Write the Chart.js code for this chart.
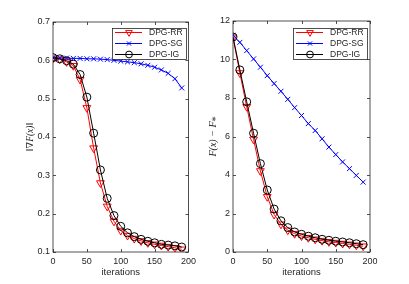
<!DOCTYPE html>
<html>
<head>
<meta charset="utf-8">
<script src="https://cdn.jsdelivr.net/npm/chart.js@4.4.0/dist/chart.umd.min.js"></script>
<style>
  html, body { margin: 0; padding: 0; background: #fff; }
  #wrap { position: relative; width: 409px; height: 284px; }
  canvas { position: absolute; top: 0; }
</style>
</head>
<body>
<div id="wrap">
  <canvas id="left" width="200" height="284" style="left:0"></canvas>
  <canvas id="right" width="209" height="284" style="left:200px"></canvas>
</div>
<script>
// iterations at which markers are drawn
const iterations = [0, 10, 20, 30, 40, 50, 60, 70, 80, 90, 100, 110, 120, 130, 140, 150, 160, 170, 180, 190];

// left panel: gradient norm
const gradRR = [0.605, 0.603, 0.596, 0.586, 0.550, 0.476, 0.371, 0.280, 0.219, 0.180, 0.156, 0.143, 0.135, 0.129, 0.124, 0.120, 0.117, 0.114, 0.111, 0.107];
const gradSG = [0.607, 0.606, 0.606, 0.605, 0.605, 0.604, 0.604, 0.603, 0.602, 0.600, 0.598, 0.596, 0.594, 0.591, 0.587, 0.582, 0.575, 0.566, 0.552, 0.528];
const gradIG = [0.607, 0.604, 0.599, 0.590, 0.563, 0.504, 0.410, 0.314, 0.240, 0.195, 0.167, 0.150, 0.140, 0.133, 0.128, 0.124, 0.120, 0.118, 0.116, 0.113];

// right panel: objective gap
const gapRR = [11.15, 9.30, 7.55, 5.85, 4.21, 2.87, 1.95, 1.44, 1.13, 0.95, 0.83, 0.74, 0.66, 0.59, 0.53, 0.49, 0.44, 0.40, 0.35, 0.30];
const gapSG = [11.26, 10.89, 10.46, 10.03, 9.60, 9.16, 8.75, 8.35, 7.93, 7.50, 7.09, 6.67, 6.31, 5.88, 5.45, 5.06, 4.68, 4.33, 3.98, 3.63];
const gapIG = [11.17, 9.46, 7.80, 6.17, 4.59, 3.22, 2.23, 1.62, 1.27, 1.04, 0.92, 0.82, 0.74, 0.66, 0.61, 0.56, 0.52, 0.48, 0.43, 0.38];

const methodNames = ["DPG-RR", "DPG-SG", "DPG-IG"];
const AXIS = "#262626";
const FONT = "'Liberation Sans', Arial, sans-serif";

const styles = [
  { color: "#ff0000", pointStyle: "triangle", rotation: 180, radius: 4.5 },
  { color: "#0000ff", pointStyle: "crossRot", rotation: 0, radius: 3.5 },
  { color: "#000000", pointStyle: "circle", rotation: 0, radius: 4 },
];

function makeDatasets(series) {
  return series.map((vals, i) => ({
    label: methodNames[i],
    data: vals.map((v, k) => ({ x: iterations[k], y: v })),
    borderColor: styles[i].color,
    backgroundColor: "rgba(0,0,0,0)",
    borderWidth: 1,
    pointStyle: styles[i].pointStyle,
    pointRotation: styles[i].rotation,
    pointRadius: styles[i].radius,
    pointBorderWidth: 1,
    pointBorderColor: styles[i].color,
    pointBackgroundColor: "rgba(0,0,0,0)",
    tension: 0,
    fill: false,
    order: 2 - i, // IG on top like matlab plot order
  }));
}

// matlab-like box with inward ticks on every side
const boxPlugin = {
  id: "box",
  beforeDatasetsDraw(chart) {
    const { ctx, chartArea: a, scales } = chart;
    ctx.save();
    ctx.strokeStyle = AXIS;
    ctx.lineWidth = 0.8;
    ctx.strokeRect(a.left, a.top, a.right - a.left, a.bottom - a.top);
    const tl = 3;
    ctx.beginPath();
    scales.x.ticks.forEach((t) => {
      const px = Math.round(scales.x.getPixelForValue(t.value)) + 0.5;
      ctx.moveTo(px, a.bottom); ctx.lineTo(px, a.bottom - tl);
      ctx.moveTo(px, a.top); ctx.lineTo(px, a.top + tl);
    });
    scales.y.ticks.forEach((t) => {
      const py = Math.round(scales.y.getPixelForValue(t.value)) + 0.5;
      ctx.moveTo(a.left, py); ctx.lineTo(a.left + tl, py);
      ctx.moveTo(a.right, py); ctx.lineTo(a.right - tl, py);
    });
    ctx.stroke();
    ctx.restore();
  },
  afterDraw(chart) {
    // legend box
    const opts = chart.options.plugins.box;
    const { ctx } = chart;
    const bx = opts.legendX, by = opts.legendY, bw = 74, bh = 31;
    ctx.save();
    ctx.fillStyle = "#fff";
    ctx.fillRect(bx, by, bw, bh);
    ctx.strokeStyle = AXIS;
    ctx.lineWidth = 0.8;
    ctx.strokeRect(bx + 0.5, by + 0.5, bw, bh);
    ctx.font = "8.5px " + FONT;
    ctx.textBaseline = "middle";
    chart.data.datasets.forEach((ds, i) => {
      const y = by + 4.5 + i * 11;
      ctx.strokeStyle = ds.borderColor;
      ctx.lineWidth = 1;
      ctx.beginPath();
      ctx.moveTo(bx + 3, y);
      ctx.lineTo(bx + 30, y);
      ctx.stroke();
      ctx.fillStyle = "rgba(0,0,0,0)";
      Chart.helpers.drawPoint(ctx, {
        pointStyle: ds.pointStyle,
        rotation: ds.pointRotation,
        radius: ds.pointRadius * 0.85,
        borderWidth: 1,
      }, bx + 17, y);
      ctx.fillStyle = AXIS;
      ctx.fillText(ds.label, bx + 37, y + 0.5);
    });
    ctx.restore();
  },
};

function makeChart(id, series, yMin, yMax, yStep, yTitle, yWidth, rightPad, topPad, titlePad, legendX, titleSize) {
  return new Chart(document.getElementById(id), {
    type: "line",
    data: { datasets: makeDatasets(series) },
    plugins: [boxPlugin],
    options: {
      responsive: false,
      animation: false,
      layout: { padding: { left: 0, right: rightPad, top: topPad, bottom: 0 } },
      plugins: {
        legend: { display: false },
        tooltip: { enabled: false },
        box: { legendX: legendX, legendY: 28 },
      },
      scales: {
        x: {
          type: "linear",
          min: 0,
          max: 200,
          grid: { display: false, drawTicks: false },
          border: { display: false },
          ticks: { stepSize: 50, padding: 4, color: AXIS, font: { size: 9, family: FONT } },
          title: {
            display: true,
            text: "iterations",
            color: AXIS,
            font: { size: 9.5, family: FONT },
            padding: { top: 0, bottom: 6 },
          },
          afterFit: (s) => { s.height = 32; },
        },
        y: {
          min: yMin,
          max: yMax,
          grid: { display: false, drawTicks: false },
          border: { display: false },
          ticks: {
            stepSize: yStep,
            padding: 3,
            color: AXIS,
            font: { size: 9, family: FONT },
            callback: (v) => String(Math.round(v * 10) / 10),
          },
          title: {
            display: true,
            text: yTitle,
            color: AXIS,
            font: { size: titleSize, family: "'Liberation Serif', 'DejaVu Serif', serif", style: "italic" },
            padding: { top: titlePad, bottom: 0 },
          },
          afterFit: (s) => { s.width = yWidth; },
        },
      },
    },
  });
}

makeChart("left", [gradRR, gradSG, gradIG], 0.1, 0.7, 0.1, "\u2016\u2207F(x)\u2016", 53, 10, 22, 25, 112, 9.5);
makeChart("right", [gapRR, gapSG, gapIG], 0, 12, 2, "F(x) \u2212 F\u204E", 33, 39, 21, 7, 93, 10);
</script>
</body>
</html>
